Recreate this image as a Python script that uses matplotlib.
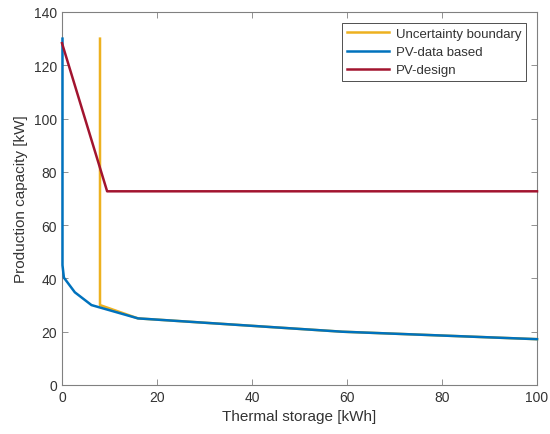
import matplotlib
matplotlib.use("Agg")
import matplotlib.pyplot as plt

plt.rcParams['font.family'] = ['Liberation Sans', 'DejaVu Sans']

# Data
unc_x = [8.0, 8.0, 16.0, 59.0, 100.0]
unc_y = [130.0, 30.0, 25.0, 20.0, 17.2]
pv_data_x = [0.1, 0.1, 0.4, 2.7, 6.2, 16.0, 59.0, 100.0]
pv_data_y = [130.0, 45.0, 40.3, 34.8, 30.0, 25.0, 20.0, 17.2]
pv_design_x = [0.0, 9.5, 100.0]
pv_design_y = [128.3, 72.7, 72.7]

xticks = [0, 20, 40, 60, 80, 100]
yticks = [0, 20, 40, 60, 80, 100, 120, 140]

fig = plt.figure(figsize=(5.5, 4.35), dpi=100)
ax = fig.add_axes([62/550, 49/435, 475/550, 373/435])

ax.plot(unc_x, unc_y, color='#EDB120', lw=1.8, label='Uncertainty boundary', clip_on=False, zorder=3)
ax.plot(pv_data_x, pv_data_y, color='#0072BD', lw=1.8, label='PV-data based', clip_on=False, zorder=3)
ax.plot(pv_design_x, pv_design_y, color='#A2142F', lw=1.8, label='PV-design', clip_on=False, zorder=3)

ax.set_xlim(0, 100)
ax.set_ylim(0, 140)
ax.set_xticks(xticks)
ax.set_yticks(yticks)
tc = '#333333'
ax.tick_params(direction='in', length=4, width=0.6, color='#808080', labelcolor=tc,
               labelsize=10, top=True, right=True, labeltop=False, labelright=False)
for s in ax.spines.values():
    s.set_color('#808080')
    s.set_linewidth(0.8)
ax.set_xlabel('Thermal storage [kWh]', fontsize=11, color=tc)
ax.set_ylabel('Production capacity [kW]', fontsize=11, color=tc)

leg = ax.legend(loc='upper right', fontsize=9.5, fancybox=False, framealpha=1,
                edgecolor='#333333', borderaxespad=0.85, handlelength=3.2,
                handletextpad=0.5, labelspacing=0.45, borderpad=0.35)
leg.get_frame().set_linewidth(0.6)
leg.set_zorder(5)
for t in leg.get_texts():
    t.set_color(tc)

fig.savefig('out.png', dpi=100)
